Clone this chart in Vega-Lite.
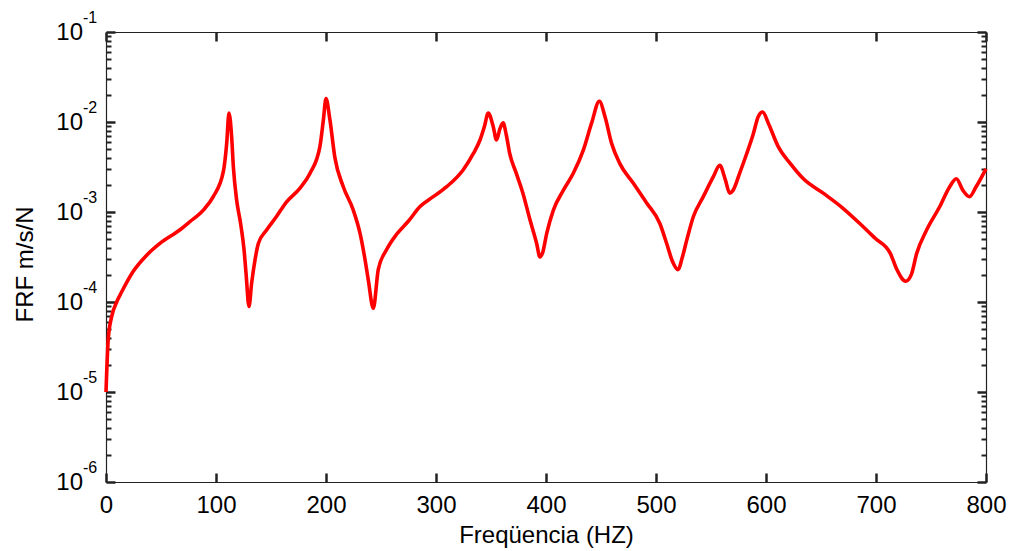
{
  "$schema": "https://vega.github.io/schema/vega-lite/v6.json",
  "autosize": {"type": "none"},
  "padding": {"left": 106, "top": 32, "right": 24, "bottom": 69},
  "width": 880,
  "height": 450,
  "background": "white",
  "config": {
    "view": {"stroke": null},
    "axis": {
      "labelFont": "Liberation Sans",
      "titleFont": "Liberation Sans",
      "labelFontSize": 24,
      "titleFontSize": 24,
      "titleFontWeight": "normal",
      "labelColor": "black",
      "titleColor": "black",
      "domainColor": "#222222",
      "domainWidth": 1.2,
      "grid": false
    }
  },
  "datasets": {
    "dec": [
      {"v": 1e-6, "e": "-6"}, {"v": 1e-5, "e": "-5"}, {"v": 1e-4, "e": "-4"},
      {"v": 1e-3, "e": "-3"}, {"v": 1e-2, "e": "-2"}, {"v": 1e-1, "e": "-1"}
    ]
  },
  "data": {"values": [
    {"f": 0, "v": 1e-5}, {"f": 2.1, "v": 3.98e-5}, {"f": 5.2, "v": 6.92e-5}, {"f": 9.7, "v": 1e-4},
    {"f": 14.2, "v": 1.29e-4}, {"f": 24.8, "v": 2.19e-4}, {"f": 37, "v": 3.31e-4}, {"f": 49, "v": 4.47e-4},
    {"f": 67, "v": 6.31e-4}, {"f": 76, "v": 7.76e-4}, {"f": 88.5, "v": 1.05e-3}, {"f": 97.5, "v": 1.48e-3},
    {"f": 106.7, "v": 2.82e-3}, {"f": 109.7, "v": 5.75e-3}, {"f": 111.8, "v": 1.26e-2}, {"f": 114.2, "v": 6.92e-3},
    {"f": 115.8, "v": 3.16e-3}, {"f": 118.8, "v": 1.35e-3}, {"f": 122.4, "v": 7.41e-4}, {"f": 125.5, "v": 3.8e-4},
    {"f": 127.3, "v": 2.09e-4}, {"f": 130, "v": 8.91e-5}, {"f": 132.4, "v": 1.62e-4}, {"f": 135.5, "v": 2.95e-4},
    {"f": 138.5, "v": 4.47e-4}, {"f": 146, "v": 6.31e-4}, {"f": 155, "v": 8.91e-4}, {"f": 164, "v": 1.29e-3},
    {"f": 176, "v": 1.82e-3}, {"f": 185.5, "v": 2.69e-3}, {"f": 194.5, "v": 5.37e-3}, {"f": 197.6, "v": 1.05e-2},
    {"f": 200, "v": 1.82e-2}, {"f": 203.6, "v": 1.05e-2}, {"f": 208, "v": 4.07e-3}, {"f": 215.7, "v": 1.91e-3},
    {"f": 224.8, "v": 1.05e-3}, {"f": 231, "v": 5.75e-4}, {"f": 235.5, "v": 2.95e-4}, {"f": 238.5, "v": 1.74e-4},
    {"f": 243, "v": 8.51e-5}, {"f": 247.5, "v": 2.29e-4}, {"f": 255, "v": 3.8e-4}, {"f": 264, "v": 5.62e-4},
    {"f": 275, "v": 7.94e-4}, {"f": 285.5, "v": 1.15e-3}, {"f": 297.5, "v": 1.48e-3}, {"f": 309.7, "v": 1.91e-3},
    {"f": 324.8, "v": 2.95e-3}, {"f": 334, "v": 4.47e-3}, {"f": 340, "v": 6.31e-3}, {"f": 344, "v": 8.91e-3},
    {"f": 347.5, "v": 1.26e-2}, {"f": 352, "v": 8.91e-3}, {"f": 355, "v": 6.31e-3}, {"f": 358, "v": 8.32e-3},
    {"f": 361, "v": 9.77e-3}, {"f": 364, "v": 7.08e-3}, {"f": 367, "v": 4.47e-3}, {"f": 373, "v": 2.69e-3},
    {"f": 379, "v": 1.62e-3}, {"f": 385.5, "v": 8.13e-4}, {"f": 391.5, "v": 4.47e-4}, {"f": 394.5, "v": 3.16e-4},
    {"f": 397, "v": 3.55e-4}, {"f": 400.6, "v": 5.75e-4}, {"f": 406.7, "v": 1.05e-3}, {"f": 415.7, "v": 1.74e-3},
    {"f": 424.8, "v": 2.69e-3}, {"f": 434, "v": 4.9e-3}, {"f": 441.5, "v": 9.77e-3}, {"f": 448.5, "v": 1.7e-2},
    {"f": 453.6, "v": 1.15e-2}, {"f": 459.7, "v": 5.75e-3}, {"f": 467, "v": 3.47e-3}, {"f": 479.4, "v": 2.09e-3},
    {"f": 491.5, "v": 1.26e-3}, {"f": 503.6, "v": 7.41e-4}, {"f": 509.7, "v": 4.47e-4}, {"f": 515, "v": 2.82e-4},
    {"f": 520, "v": 2.29e-4}, {"f": 524, "v": 3.16e-4}, {"f": 528, "v": 4.9e-4}, {"f": 534, "v": 8.91e-4},
    {"f": 543, "v": 1.48e-3}, {"f": 552, "v": 2.45e-3}, {"f": 558, "v": 3.31e-3}, {"f": 563, "v": 2.29e-3},
    {"f": 567, "v": 1.62e-3}, {"f": 570, "v": 1.74e-3}, {"f": 576, "v": 2.69e-3}, {"f": 582.5, "v": 4.47e-3},
    {"f": 588.5, "v": 7.41e-3}, {"f": 593, "v": 1.15e-2}, {"f": 597, "v": 1.29e-2}, {"f": 602, "v": 9.77e-3},
    {"f": 611, "v": 5.37e-3}, {"f": 622, "v": 3.47e-3}, {"f": 634, "v": 2.34e-3}, {"f": 652, "v": 1.62e-3},
    {"f": 670, "v": 1.1e-3}, {"f": 685.5, "v": 7.41e-4}, {"f": 699, "v": 5.13e-4}, {"f": 713, "v": 3.47e-4},
    {"f": 719, "v": 2.29e-4}, {"f": 727, "v": 1.7e-4}, {"f": 732, "v": 2.0e-4}, {"f": 737, "v": 3.47e-4},
    {"f": 746, "v": 6.31e-4}, {"f": 758, "v": 1.15e-3}, {"f": 767, "v": 1.91e-3}, {"f": 773, "v": 2.34e-3},
    {"f": 779, "v": 1.74e-3}, {"f": 785, "v": 1.48e-3}, {"f": 791, "v": 1.91e-3}, {"f": 800, "v": 3.02e-3}
  ]},
  "resolve": {"axis": {"x": "independent", "y": "independent"}},
  "layer": [
    {
      "mark": {"type": "line", "color": "#ff0000", "strokeWidth": 3.6, "interpolate": "monotone"},
      "encoding": {
        "x": {"field": "f", "type": "quantitative",
              "scale": {"domain": [0, 800], "nice": false, "zero": false},
              "axis": {"orient": "bottom", "title": "Freqüencia (HZ)", "values": [0,100,200,300,400,500,600,700,800],
                       "ticks": false, "labelPadding": 11, "titlePadding": 6, "labelFlush": false}},
        "y": {"field": "v", "type": "quantitative",
              "scale": {"type": "log", "domain": [1e-6, 1e-1], "nice": false},
              "axis": {"orient": "left", "title": "FRF m/s/N", "labels": false, "ticks": false,
                       "titlePadding": 69, "titleY": 232}}
      }
    },
    {
      "mark": {"type": "line", "strokeOpacity": 0},
      "encoding": {
        "x": {"field": "f", "type": "quantitative",
              "axis": {"orient": "top", "offset": -450, "title": null, "labels": false, "domain": false, "ticks": true,
                       "values": [0,100,200,300,400,500,600,700,800], "tickSize": 9, "tickColor": "#222222", "tickWidth": 2.5}},
        "y": {"field": "v", "type": "quantitative",
              "axis": {"orient": "right", "offset": -880, "title": null, "labels": false, "domain": false, "ticks": true,
                       "values": [1e-6,1e-5,1e-4,1e-3,1e-2,1e-1], "tickSize": 9, "tickColor": "#222222", "tickWidth": 2.5}}
      }
    },
    {
      "mark": {"type": "line", "strokeOpacity": 0},
      "encoding": {
        "x": {"field": "f", "type": "quantitative",
              "axis": {"orient": "bottom", "offset": -450, "title": null, "labels": false, "domain": true, "ticks": true,
                       "values": [0,100,200,300,400,500,600,700,800], "tickSize": 9, "tickColor": "#222222", "tickWidth": 2.5}},
        "y": {"field": "v", "type": "quantitative",
              "axis": {"orient": "left", "offset": -880, "title": null, "labels": false, "domain": true, "ticks": true,
                       "values": [1e-6,1e-5,1e-4,1e-3,1e-2,1e-1], "tickSize": 9, "tickColor": "#222222", "tickWidth": 2.5}}
      }
    },
    {
      "mark": {"type": "line", "strokeOpacity": 0},
      "encoding": {
        "x": {"field": "f", "type": "quantitative", "axis": null},
        "y": {"field": "v", "type": "quantitative",
              "axis": {"orient": "right", "offset": -880, "title": null, "labels": false, "domain": false, "ticks": true,
                       "values": [2e-6,3e-6,4e-6,5e-6,6e-6,7e-6,8e-6,9e-6,2e-5,3e-5,4e-5,5e-5,6e-5,7e-5,8e-5,9e-5,2e-4,3e-4,4e-4,5e-4,6e-4,7e-4,8e-4,9e-4,2e-3,3e-3,4e-3,5e-3,6e-3,7e-3,8e-3,9e-3,2e-2,3e-2,4e-2,5e-2,6e-2,7e-2,8e-2,9e-2],
                       "tickSize": 5, "tickColor": "#222222", "tickWidth": 2}}
      }
    },
    {
      "mark": {"type": "line", "strokeOpacity": 0},
      "encoding": {
        "x": {"field": "f", "type": "quantitative", "axis": null},
        "y": {"field": "v", "type": "quantitative",
              "axis": {"orient": "left", "offset": -880, "title": null, "labels": false, "domain": false, "ticks": true,
                       "values": [2e-6,3e-6,4e-6,5e-6,6e-6,7e-6,8e-6,9e-6,2e-5,3e-5,4e-5,5e-5,6e-5,7e-5,8e-5,9e-5,2e-4,3e-4,4e-4,5e-4,6e-4,7e-4,8e-4,9e-4,2e-3,3e-3,4e-3,5e-3,6e-3,7e-3,8e-3,9e-3,2e-2,3e-2,4e-2,5e-2,6e-2,7e-2,8e-2,9e-2],
                       "tickSize": 5, "tickColor": "#222222", "tickWidth": 2}}
      }
    },
    {
      "data": {"name": "dec"},
      "mark": {"type": "text", "text": "10", "align": "right", "baseline": "middle", "dx": -23, "dy": 1, "font": "Liberation Sans", "fontSize": 24, "color": "black"},
      "encoding": {
        "x": {"datum": 0, "type": "quantitative", "axis": null},
        "y": {"field": "v", "type": "quantitative", "axis": null}
      }
    },
    {
      "data": {"name": "dec"},
      "mark": {"type": "text", "align": "left", "baseline": "alphabetic", "dx": -23, "dy": -9, "font": "Liberation Sans", "fontSize": 16, "color": "black"},
      "encoding": {
        "x": {"datum": 0, "type": "quantitative", "axis": null},
        "y": {"field": "v", "type": "quantitative", "axis": null},
        "text": {"field": "e"}
      }
    }
  ]
}
